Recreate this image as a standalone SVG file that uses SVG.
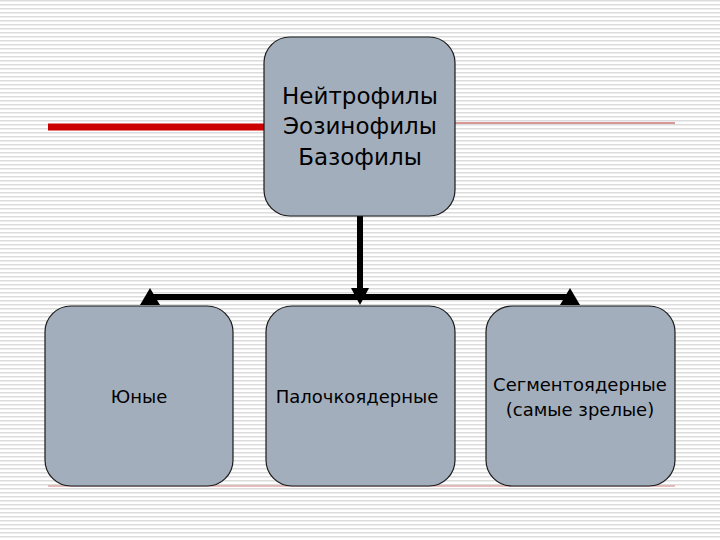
<svg xmlns="http://www.w3.org/2000/svg" width="720" height="540" viewBox="0 0 720 540">
<defs>
<pattern id="st" width="4" height="4" patternUnits="userSpaceOnUse"><rect width="4" height="4" fill="#fff"/><rect y="0" width="4" height="1.5" fill="#dcdcdc"/></pattern>
<style>
.box{fill:#a3aebc;stroke:#1a1a1a;stroke-width:1.2}
.t{font-family:"DejaVu Sans",sans-serif;fill:#000;text-anchor:middle}
</style>
</defs>
<rect width="720" height="540" fill="url(#st)"/>
<line x1="48" y1="127" x2="264" y2="127" stroke="#cc0000" stroke-width="7"/>
<line x1="455" y1="123" x2="675" y2="123" stroke="#b03030" stroke-width="1"/>
<line x1="48" y1="486" x2="675" y2="486" stroke="#d08080" stroke-width="1"/>
<g id="connectors">
<line x1="360" y1="216" x2="360" y2="292" stroke="#000" stroke-width="6"/>
<polygon points="351,288 369,288 360,305" fill="#000"/>
<line x1="150" y1="297" x2="570" y2="297" stroke="#000" stroke-width="6"/>
<polygon points="140,305 160,305 150,288" fill="#000"/>
<polygon points="560,305 580,305 570,288" fill="#000"/>
</g>
<g id="top"><rect class="box" x="264" y="37" width="191" height="179" rx="26"/>
<text class="t" font-size="23" x="360" y="104">Нейтрофилы</text>
<text class="t" font-size="23" x="360" y="134">Эозинофилы</text>
<text class="t" font-size="23" x="360" y="165">Базофилы</text></g>
<g id="b1"><rect class="box" x="45" y="306" width="188" height="180" rx="26"/>
<text class="t" font-size="18" x="139" y="403">Юные</text></g>
<g id="b2"><rect class="box" x="266" y="306" width="189" height="180" rx="26"/>
<text class="t" font-size="18" x="357" y="403">Палочкоядерные</text></g>
<g id="b3"><rect class="box" x="486" y="306" width="189" height="180" rx="26"/>
<text class="t" font-size="18" x="580" y="391">Сегментоядерные</text>
<text class="t" font-size="18" x="580" y="416">(самые зрелые)</text></g>
</svg>
